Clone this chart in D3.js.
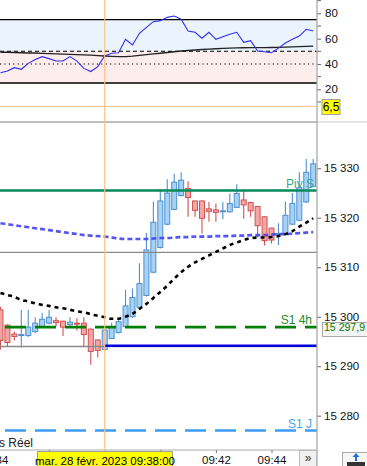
<!DOCTYPE html>
<html><head><meta charset="utf-8">
<script src="https://cdn.jsdelivr.net/npm/d3@7"></script>
<style>body{margin:0;background:#fff;overflow:hidden}svg{display:block;font-family:"Liberation Sans",Arial,sans-serif}</style>
</head><body><svg id="c" width="367" height="466"></svg>
<script>
const day = "2023-02-28";
const times = ["09:34:15","09:34:30","09:34:45","09:35:00","09:35:15","09:35:30","09:35:45","09:36:00","09:36:15","09:36:30","09:36:45","09:37:00","09:37:15","09:37:30","09:37:45","09:38:00","09:38:15","09:38:30","09:38:45","09:39:00","09:39:15","09:39:30","09:39:45","09:40:00","09:40:15","09:40:30","09:40:45","09:41:00","09:41:15","09:41:30","09:41:45","09:42:00","09:42:15","09:42:30","09:42:45","09:43:00","09:43:15","09:43:30","09:43:45","09:44:00","09:44:15","09:44:30","09:44:45","09:45:00","09:45:15","09:45:30"];
const open  = [15301.4,15298.3,15296.5,15296.2,15296.2,15297.0,15297.9,15298.7,15299.2,15299.1,15298.4,15298.7,15298.7,15297.5,15295.3,15293.4,15295.6,15296.8,15298.0,15300.0,15301.9,15304.3,15309.0,15314.0,15318.7,15321.7,15324.5,15325.9,15323.4,15323.4,15321.8,15321.6,15321.3,15321.2,15322.1,15323.6,15323.1,15322.3,15320.2,15317.9,15316.7,15316.6,15318.7,15319.5,15323.2,15326.3];
const high  = [15302.0,15298.5,15297.0,15301.4,15301.4,15299.9,15300.8,15301.4,15299.9,15299.2,15299.9,15299.7,15299.9,15297.6,15295.5,15297.5,15298.8,15299.7,15305.4,15305.7,15310.8,15316.9,15323.3,15325.8,15327.8,15328.9,15329.2,15327.4,15323.5,15323.5,15323.2,15322.9,15323.2,15324.9,15326.8,15325.3,15323.2,15322.4,15320.3,15318.0,15318.9,15323.3,15325.0,15329.2,15331.9,15331.9];
const low   = [15293.4,15294.0,15295.2,15293.8,15295.9,15296.7,15297.7,15298.5,15298.1,15296.1,15298.1,15297.2,15294.1,15290.3,15291.8,15293.2,15295.5,15296.6,15297.8,15299.8,15301.7,15304.1,15308.8,15313.8,15318.5,15321.5,15324.3,15320.2,15320.2,15316.8,15319.2,15319.2,15319.7,15321.0,15322.0,15319.8,15320.2,15316.0,15314.4,15314.8,15314.5,15316.5,15318.6,15319.3,15323.0,15326.2];
const close = [15295.2,15294.8,15296.0,15296.4,15297.9,15298.7,15299.5,15299.9,15298.8,15297.9,15298.9,15298.6,15296.4,15293.0,15293.2,15297.3,15298.0,15299.0,15302.2,15303.9,15306.7,15313.5,15319.1,15323.4,15325.0,15327.2,15327.6,15324.1,15321.5,15319.9,15321.3,15321.1,15321.4,15322.9,15324.9,15322.6,15321.4,15318.4,15315.4,15315.5,15316.8,15320.5,15322.9,15326.1,15329.2,15330.9];
const maBlack = [15304.8,15304.4,15304.0,15303.4,15303.1,15302.7,15302.4,15302.2,15301.9,15301.7,15301.4,15301.1,15300.9,15300.5,15300.2,15299.9,15299.6,15299.6,15300.0,15300.6,15301.6,15302.6,15303.8,15305.0,15306.3,15307.7,15309.0,15310.1,15311.0,15311.7,15312.4,15313.1,15313.8,15314.5,15315.0,15315.5,15315.9,15316.0,15316.0,15316.1,15316.3,15316.7,15317.3,15318.2,15319.0,15319.9];
const maBlue = [15318.9,15318.7,15318.5,15318.3,15318.1,15317.9,15317.7,15317.5,15317.3,15317.1,15316.9,15316.7,15316.5,15316.4,15316.3,15316.2,15316.0,15315.8,15315.7,15315.7,15315.7,15315.7,15315.8,15315.9,15315.9,15316.0,15316.1,15316.1,15316.2,15316.2,15316.2,15316.3,15316.3,15316.3,15316.4,15316.4,15316.5,15316.5,15316.5,15316.6,15316.7,15316.7,15316.8,15316.9,15317.0,15317.1];
const rsi = [33.1,34.5,37.1,35.8,40.5,43.5,45.8,44.2,42.3,42.3,45.8,42.3,36.5,34.0,37.9,46.3,48.4,48.9,59.5,55.0,64.2,68.9,73.4,74.2,76.8,77.9,75.3,66.0,65.0,60.3,65.0,59.5,61.5,63.4,65.0,57.1,58.4,50.2,49.7,48.9,52.5,56.5,59.5,62.0,67.4,66.0];
const rsiSignal = [49.3,49.2,49.0,48.9,48.7,48.6,48.4,48.2,48.0,47.8,47.6,47.4,47.2,47.0,46.6,46.3,46.0,45.8,45.8,46.2,46.8,47.4,48.0,48.5,49.1,49.7,50.2,50.6,51.0,51.4,51.7,52.0,52.3,52.5,52.7,52.8,52.9,52.9,52.9,53.0,53.1,53.3,53.5,53.7,53.9,54.1];
const rsiBands = [75, 50, 40, 25];
const rsiTicks = [80, 60, 40, 20];
const rsiMinorTicks = [90, 70, 50, 30, 10];
const priceTicks = [15330, 15320, 15310, 15300, 15290, 15280];
const timeTicks = ["09:34:00","09:36:00","09:38:00","09:40:00","09:42:00","09:44:00"];
const timeLabelsShown = ["09:34","09:42","09:44"];
const pivS = 15325.5, grayHigh = 15313.0, grayLow = 15294.0, blueLevel = 15294.15, s14h = 15297.9, s1J = 15277.0;
const cursorTime = "09:38:00", cursorRsi = 6.5;
const cursorLabel = "mar. 28 févr. 2023 09:38:00";

const parse = d3.timeParse("%Y-%m-%d %H:%M:%S");
const T = s => parse(day + " " + s);
const svg = d3.select("#c");
const W = 317;
const x = d3.scaleTime().domain([T("09:38:00"), T("09:44:00")]).range([104.7, 271.5]);
const y = d3.scaleLinear().domain([15280, 15330]).range([415.7, 168.3]);
const yr = d3.scaleLinear().domain([20, 80]).range([89.3, 13.3]);
const data = times.map((t, i) => ({t: T(t), o: open[i], h: high[i], l: low[i], c: close[i], mk: maBlack[i], mb: maBlue[i], r: rsi[i], s: rsiSignal[i]}));

const defs = svg.append("defs");
defs.append("clipPath").attr("id", "cTop").append("rect").attr("x", 0).attr("y", 0).attr("width", W).attr("height", 121);
defs.append("clipPath").attr("id", "cMain").append("rect").attr("x", 0).attr("y", 122.5).attr("width", W).attr("height", 327);

// ---- top panel
const topG = svg.append("g").attr("clip-path", "url(#cTop)");
topG.append("rect").attr("x", 0).attr("width", W).attr("y", yr(75)).attr("height", yr(50) - yr(75)).attr("fill", "#ebf4fd");
topG.append("rect").attr("x", 0).attr("width", W).attr("y", yr(50)).attr("height", yr(25) - yr(50)).attr("fill", "#fdeded");
topG.selectAll(".band").data(rsiBands).join("line")
  .attr("x1", 0).attr("x2", W).attr("y1", d => yr(d)).attr("y2", d => yr(d))
  .attr("stroke", "#000").attr("stroke-width", d => (d === 75 || d === 25) ? 1.4 : 1.1)
  .attr("stroke-dasharray", d => d === 50 ? "4,3" : d === 40 ? "1.2,3.2" : null);
topG.append("path").datum(data).attr("fill", "none").attr("stroke", "#222").attr("stroke-width", 1.4)
  .attr("d", d3.line().x(d => x(d.t)).y(d => yr(d.s)));
topG.append("path").datum(data).attr("fill", "none").attr("stroke", "#2e2ef5").attr("stroke-width", 1.1)
  .attr("d", d3.line().x(d => x(d.t)).y(d => yr(d.r)));
topG.append("line").attr("x1", 0).attr("x2", W).attr("y1", yr(cursorRsi)).attr("y2", yr(cursorRsi)).attr("stroke", "#ffc58a").attr("stroke-width", 1);

// top axis
const ra = svg.append("g").attr("transform", `translate(${W},0)`);
ra.call(d3.axisRight(yr).tickValues(rsiTicks).tickSize(4).tickPadding(4)).call(g => g.select(".domain").remove());
ra.append("g").selectAll("line").data(rsiMinorTicks).join("line").attr("x1", 0).attr("x2", 4).attr("y1", d => yr(d)).attr("y2", d => yr(d)).attr("stroke", "#666");
ra.selectAll(".tick line").attr("stroke", "#666");
ra.selectAll("text").attr("font-size", 11.5).attr("fill", "#111").attr("font-family", "Liberation Sans, Arial");

// ---- main panel
const mainG = svg.append("g").attr("clip-path", "url(#cMain)");
const bw = 5;
const cg = mainG.append("g");
const cand = cg.selectAll("g").data(data).join("g");
const up = d => d.c >= d.o;
cand.append("line").attr("x1", d => x(d.t)).attr("x2", d => x(d.t)).attr("y1", d => y(d.h)).attr("y2", d => y(d.l))
  .attr("stroke", d => up(d) ? "#4f8fcf" : "#cf5252").attr("stroke-width", 1.1);
cand.append("rect").attr("x", d => x(d.t) - bw / 2).attr("width", bw)
  .attr("y", d => y(Math.max(d.o, d.c))).attr("height", d => Math.max(1, Math.abs(y(d.o) - y(d.c))))
  .attr("fill", d => up(d) ? "#a6d2f6" : "#f6a5a5").attr("stroke", d => up(d) ? "#4f8fcf" : "#cf5252").attr("stroke-width", 1);

const hl = (v, color, w, dash, x1) => mainG.append("line").attr("x1", x1 || 0).attr("x2", W).attr("y1", y(v)).attr("y2", y(v))
  .attr("stroke", color).attr("stroke-width", w).attr("stroke-dasharray", dash || null);
hl(grayHigh, "#8a8a8a", 1.4);
hl(grayLow, "#8a8a8a", 1.4);
mainG.append("path").datum(data).attr("fill", "none").attr("stroke", "#4444f2").attr("stroke-opacity", 0.9).attr("stroke-width", 2.6)
  .attr("stroke-dasharray", "5,3").attr("d", d3.line().curve(d3.curveMonotoneX).x(d => x(d.t)).y(d => y(d.mb)));
mainG.append("path").datum(data).attr("fill", "none").attr("stroke", "#000").attr("stroke-width", 2.6)
  .attr("stroke-dasharray", "4,4").attr("d", d3.line().curve(d3.curveMonotoneX).x(d => x(d.t)).y(d => y(d.mk)));
hl(pivS, "#008a5c", 2.6);
hl(blueLevel, "#0000dd", 2.6, null, x(T(cursorTime)));
mainG.append("line").attr("x1", -25).attr("x2", W).attr("y1", y(s14h)).attr("y2", y(s14h)).attr("stroke", "#008000").attr("stroke-width", 2.6).attr("stroke-dasharray", "21,9");
mainG.append("line").attr("x1", -25).attr("x2", W).attr("y1", y(s1J)).attr("y2", y(s1J)).attr("stroke", "#3d9cf5").attr("stroke-width", 2.6).attr("stroke-dasharray", "21,9");

mainG.append("text").attr("x", 314).attr("y", y(pivS) - 3).attr("text-anchor", "end").attr("font-size", 12).attr("fill", "#3aa88c").text("Piv S");
mainG.append("text").attr("x", 312).attr("y", y(s14h) - 3).attr("text-anchor", "end").attr("font-size", 12).attr("fill", "#1f8a1f").text("S1 4h");
mainG.append("text").attr("x", 312).attr("y", y(s1J) - 3).attr("text-anchor", "end").attr("font-size", 12).attr("fill", "#4aa3f5").text("S1 J");
mainG.append("text").attr("x", -1).attr("y", 447).attr("font-size", 12).attr("fill", "#222").text("s Réel");

// main price axis
const pa = svg.append("g").attr("transform", `translate(${W},0)`);
pa.call(d3.axisRight(y).tickValues(priceTicks).tickSize(4).tickPadding(3).tickFormat(d => d3.format(",")(d).replace(",", " ")))
  .call(g => g.select(".domain").remove());
pa.selectAll(".tick line").attr("stroke", "#666");
pa.selectAll("text").attr("font-size", 11.5).attr("fill", "#111").attr("font-family", "Liberation Sans, Arial");

// frame lines
svg.append("line").attr("x1", 0).attr("x2", W).attr("y1", 122).attr("y2", 122).attr("stroke", "#aaa").attr("stroke-width", 1.5);
svg.append("line").attr("x1", W).attr("x2", 367).attr("y1", 122).attr("y2", 122).attr("stroke", "#ddd").attr("stroke-width", 1.5);
svg.append("line").attr("x1", W).attr("x2", W).attr("y1", 0).attr("y2", 466).attr("stroke", "#aaa").attr("stroke-width", 1.3);
svg.append("line").attr("x1", 0).attr("x2", W).attr("y1", 450).attr("y2", 450).attr("stroke", "#aaa").attr("stroke-width", 1);

// time axis (labels under the cursor box are hidden, as in the source)
const fmt = d3.timeFormat("%H:%M");
const ta = svg.append("g").attr("transform", "translate(0,450)");
ta.call(d3.axisBottom(x).tickValues(timeTicks.map(T)).tickSize(3).tickPadding(3)
    .tickFormat(d => timeLabelsShown.includes(fmt(d)) ? fmt(d) : ""))
  .call(g => g.select(".domain").remove());
ta.selectAll(".tick line").attr("stroke", "#777");
ta.selectAll("text").attr("font-size", 11.5).attr("fill", "#111").attr("font-family", "Liberation Sans, Arial");

// crosshair
const cx = x(T(cursorTime));
svg.append("line").attr("x1", cx).attr("x2", cx).attr("y1", 0).attr("y2", 452).attr("stroke", "#ffbf80").attr("stroke-width", 1.1);

// cursor labels
svg.append("rect").attr("x", 322).attr("y", 99.5).attr("width", 18).attr("height", 15).attr("fill", "#ffff00").attr("stroke", "#a0a0a0");
svg.append("text").attr("x", 331).attr("y", yr(cursorRsi) + 4.5).attr("text-anchor", "middle").attr("font-size", 12).attr("fill", "#000").text("6,5");
svg.append("rect").attr("x", 322.5).attr("y", 322.5).attr("width", 45).attr("height", 14).attr("fill", "#f4f4f4").attr("stroke", "#a8a8a8");
svg.append("text").attr("x", 324).attr("y", y(s14h) + 4).attr("font-size", 10.5).attr("fill", "#008000")
  .attr("textLength", 41).attr("lengthAdjust", "spacingAndGlyphs")
  .text(d3.format(",.1f")(s14h).replace(",", " ").replace(".", ","));
svg.append("rect").attr("x", 37.5).attr("y", 451.5).attr("width", 135).attr("height", 16).attr("fill", "#ffff00").attr("stroke", "#a0a0a0");
svg.append("text").attr("x", 105).attr("y", 464.5).attr("text-anchor", "middle").attr("font-size", 11.5).attr("fill", "#000").text(cursorLabel);

// buttons
svg.append("rect").attr("x", 299.5).attr("y", 450.5).attr("width", 17).attr("height", 17).attr("fill", "#f0f0f0").attr("stroke", "#bbb");
svg.append("text").attr("x", 308).attr("y", 462).attr("text-anchor", "middle").attr("font-size", 12).attr("fill", "#333").text("»");
const ic = svg.append("g");
ic.append("rect").attr("x", 342.5).attr("y", 452.5).attr("width", 26).attr("height", 15).attr("fill", "#f6f6f6").attr("stroke", "#aaa");
ic.append("path").attr("d", "M356,453 L352.5,457 L355,457 L355,461 L357,461 L357,457 L359.5,457 Z").attr("fill", "#1a6fd6");
ic.append("rect").attr("x", 347).attr("y", 462).attr("width", 18).attr("height", 5).attr("fill", "#333");
</script></body></html>
